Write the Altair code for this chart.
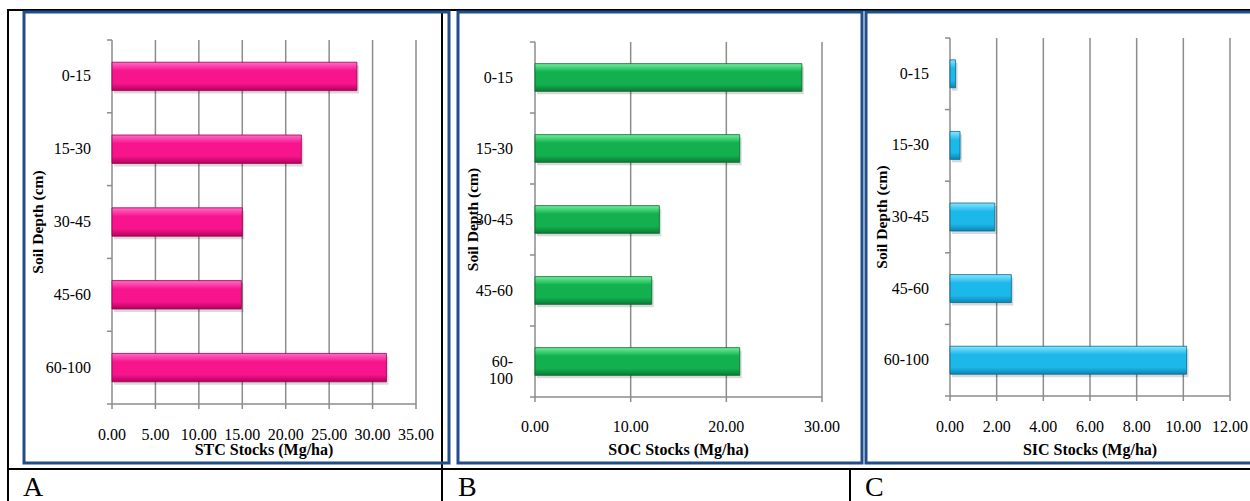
import altair as alt
import pandas as pd

# ---------------- data ----------------
depths = ["0-15", "15-30", "30-45", "45-60", "60-100"]
stc_values = [28.2, 21.8, 15.0, 14.9, 31.6]
soc_values = [27.9, 21.4, 13.0, 12.2, 21.4]
sic_values = [0.24, 0.43, 1.92, 2.63, 10.14]

stc_ticks = [0, 5, 10, 15, 20, 25, 30, 35]
soc_ticks = [0, 10, 20, 30]
sic_ticks = [0, 2, 4, 6, 8, 10, 12]

panel_letters = ["A", "B", "C"]
x_titles = ["STC Stocks (Mg/ha)", "SOC Stocks (Mg/ha)", "SIC Stocks (Mg/ha)"]
y_title = "Soil Depth (cm)"

# ---------------- style ----------------
W, H = 1250, 501
SERIF = "Liberation Serif"
GRID = "#8c8c8c"
FRAME_BLUE = "#1f4e8a"
one = pd.DataFrame({"k": [0]})


def grad(top, mid, bottom):
    return alt.Gradient(
        gradient="linear", x1=0, x2=0, y1=0, y2=1,
        stops=[
            alt.GradientStop(color=top, offset=0),
            alt.GradientStop(color=mid, offset=0.3),
            alt.GradientStop(color=mid, offset=0.75),
            alt.GradientStop(color=bottom, offset=1),
        ],
    )


def panel(values, ticks, xmax, xrange, yrange, x_title, fill, stroke,
          ytitle_x, label_right, xlabel_y, split_last=False):
    labels = list(depths)
    if split_last:
        labels[-1] = ["60-", "100"]
    df = pd.DataFrame({"depth": depths, "value": values, "label": labels})
    tdf = pd.DataFrame({"tick": ticks})
    top, bottom = yrange
    step = (bottom - top) / len(depths)
    xs = alt.Scale(domain=[0, xmax], range=xrange, nice=False, zero=True)
    ys = alt.Scale(domain=depths, range=yrange, paddingInner=0.61, paddingOuter=0.305)

    def X(field):
        return alt.X(field, scale=xs, axis=None)

    def Y(field):
        return alt.Y(field, scale=ys, sort=depths, axis=None)

    grid = alt.Chart(tdf).mark_rule(color=GRID, strokeWidth=1.5).encode(
        x=X("tick:Q"), y=alt.value(top), y2=alt.value(bottom))

    x_domain = alt.Chart(one).mark_rule(color=GRID, strokeWidth=1.5).encode(
        x=alt.XDatum(0, scale=xs, type="quantitative", axis=None),
        x2=alt.X2Datum(xmax),
        y=alt.value(bottom))

    x_ticks = alt.Chart(tdf).mark_rule(color=GRID, strokeWidth=1.5).encode(
        x=X("tick:Q"), y=alt.value(bottom), y2=alt.value(bottom + 5))

    x_labels = alt.Chart(tdf).mark_text(
        font=SERIF, fontSize=16, color="black", align="center", baseline="middle"
    ).encode(x=X("tick:Q"), y=alt.value(xlabel_y),
             text=alt.Text("tick:Q", format=".2f"))

    x_title_mark = alt.Chart(one).mark_text(
        text=x_title, font=SERIF, fontSize=16, fontWeight="bold", color="black",
        align="center", baseline="middle"
    ).encode(x=alt.XDatum(xmax / 2, scale=xs, type="quantitative", axis=None),
             y=alt.value(450))

    y_ticks = alt.Chart(df).mark_rule(
        color=GRID, strokeWidth=1.5, yOffset=-step / 2
    ).encode(y=Y("depth:N"), x=alt.value(xrange[0] - 5), x2=alt.value(xrange[0]))

    y_tick_end = alt.Chart(one).mark_rule(color=GRID, strokeWidth=1.5).encode(
        y=alt.value(bottom), x=alt.value(xrange[0] - 5), x2=alt.value(xrange[0]))

    y_labels = alt.Chart(df).mark_text(
        font=SERIF, fontSize=16, color="black", align="right", baseline="middle",
        lineHeight=17
    ).encode(y=Y("depth:N"), x=alt.value(label_right), text="label:N")

    y_title_mark = alt.Chart(one).mark_text(
        text=y_title, font=SERIF, fontSize=15.5, fontWeight="bold", color="black",
        angle=270, align="center", baseline="middle"
    ).encode(x=alt.value(ytitle_x), y=alt.value((top + bottom) / 2))

    shadow = alt.Chart(df).mark_bar(
        color="#000000", opacity=0.15, xOffset=2, x2Offset=3, yOffset=3, y2Offset=3
    ).encode(x=X("value:Q"), y=Y("depth:N"))

    bars = alt.Chart(df).mark_bar(
        fill=fill, stroke=stroke, strokeWidth=1, strokeOpacity=0.8
    ).encode(x=X("value:Q"), y=Y("depth:N"))

    return alt.layer(grid, x_domain, x_ticks, y_ticks, y_tick_end, shadow, bars,
                     x_labels, x_title_mark, y_labels, y_title_mark)


# ---------------- decoration (table + frames) ----------------
decor = []


def hline(y, x1, x2, color="black", w=2):
    decor.append(alt.Chart(one).mark_rule(color=color, strokeWidth=w).encode(
        x=alt.value(x1), x2=alt.value(x2), y=alt.value(y)))


def vline(x, y1, y2, color="black", w=2):
    decor.append(alt.Chart(one).mark_rule(color=color, strokeWidth=w).encode(
        x=alt.value(x), y=alt.value(y1), y2=alt.value(y2)))


hline(10, 7, W)
hline(469, 7, W)
vline(8, 9, H)
vline(442, 9, H)
vline(850, 469, H)

frames = [(24, 449), (458, 862), (866, W + 10)]
for (fx1, fx2) in frames:
    decor.append(alt.Chart(one).mark_rect(
        fillOpacity=0, stroke=FRAME_BLUE, strokeWidth=3
    ).encode(x=alt.value(fx1), x2=alt.value(fx2), y=alt.value(12), y2=alt.value(463)))

letter_x = [23, 458, 865]
for lx, letter in zip(letter_x, panel_letters):
    decor.append(alt.Chart(one).mark_text(
        text=letter, font=SERIF, fontSize=28, align="left", baseline="alphabetic",
        color="black"
    ).encode(x=alt.value(lx), y=alt.value(496)))

# ---------------- panels ----------------
pink = grad("#ff6cc6", "#f7148c", "#b4005e")
green = grad("#6ef09c", "#12b04e", "#0a7a36")
blue = grad("#86e6ff", "#1db8ea", "#0b86b5")

pA = panel(stc_values, stc_ticks, 35, [112, 416], [40, 404], x_titles[0],
           pink, "#9a0050", 38, 91, 435)
pB = panel(soc_values, soc_ticks, 30, [535, 822], [42, 397], x_titles[1],
           green, "#06662b", 473, 513, 427, split_last=True)
pC = panel(sic_values, sic_ticks, 12, [950, 1230], [38, 396], x_titles[2],
           blue, "#07688f", 882, 929, 427)

chart = alt.layer(*decor, pA, pB, pC).resolve_scale(
    x="independent", y="independent"
).properties(
    width=W, height=H, padding=0,
    autosize=alt.AutoSizeParams(type="none"),
    background="white",
).configure_view(stroke=None)

chart.save("out.html", embed_options={"renderer": "svg", "actions": False})
